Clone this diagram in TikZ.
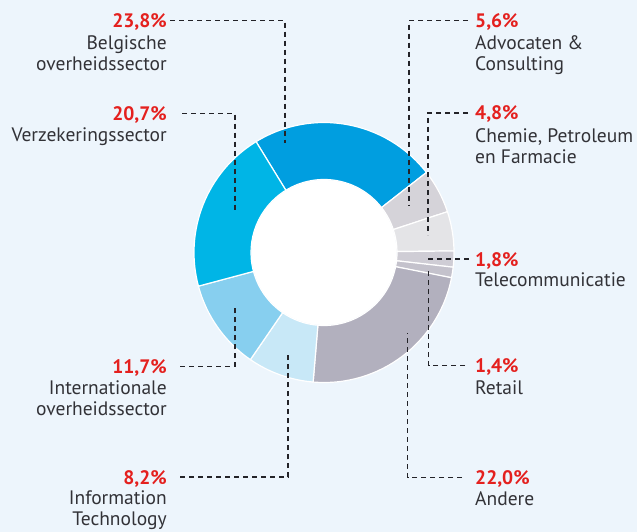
\documentclass[tikz,border=0pt]{standalone}
\usepackage{fontspec}
\setmainfont{PT Sans}
\usepackage{tikz}
\usepackage{xcolor}
\definecolor{scbg}{RGB}{237,245,252}
\definecolor{scred}{RGB}{228,32,30}
\definecolor{sctext}{RGB}{50,50,55}
\definecolor{scline}{RGB}{35,35,40}
\definecolor{scbelg}{RGB}{0,158,224}
\definecolor{scverz}{RGB}{0,181,230}
\definecolor{scintl}{RGB}{135,207,239}
\definecolor{scit}{RGB}{200,232,247}
\definecolor{scande}{RGB}{178,176,190}
\definecolor{scadvo}{RGB}{213,211,217}
\definecolor{scchem}{RGB}{228,228,231}
\definecolor{sctele}{RGB}{207,205,213}
\definecolor{screta}{RGB}{196,194,204}
\tikzstyle{leader} = [line width=1.5pt, dash pattern=on 5pt off 4pt, color=scline]
\tikzstyle{slice} = [draw=white, line width=1.2pt]
\tikzstyle{pct} = [inner sep=0pt, text height=14pt, text depth=0pt, text=scred, font=\fontsize{19.5}{21}\selectfont\bfseries]
\tikzstyle{txtl} = [inner sep=0pt, anchor=base east, align=right, text=sctext, font=\fontsize{19.5}{21}\selectfont]
\tikzstyle{txtr} = [inner sep=0pt, anchor=base west, align=left, text=sctext, font=\fontsize{19.5}{21}\selectfont]

\begin{document}
\begin{tikzpicture}[x=1pt, y=1pt]
% Background
\fill[scbg] (0,0) rectangle (637,-532);
\useasboundingbox (0,0) rectangle (637,-532);

% Ring
\begin{scope}[shift={(324,-252.5)}]
\filldraw[slice, fill=scbelg] (121.5:130) arc[start angle=121.5, end angle=38, radius=130] -- (38:73) arc[start angle=38, end angle=121.5, radius=73] -- cycle;
\filldraw[slice, fill=scadvo] (38:130) arc[start angle=38, end angle=18.3, radius=130] -- (18.3:73) arc[start angle=18.3, end angle=38, radius=73] -- cycle;
\filldraw[slice, fill=scchem] (18.3:130) arc[start angle=18.3, end angle=0.7, radius=130] -- (0.7:73) arc[start angle=0.7, end angle=18.3, radius=73] -- cycle;
\filldraw[slice, fill=sctele] (0.7:130) arc[start angle=0.7, end angle=-6.5, radius=130] -- (-6.5:73) arc[start angle=-6.5, end angle=0.7, radius=73] -- cycle;
\filldraw[slice, fill=screta] (-6.5:130) arc[start angle=-6.5, end angle=-11.2, radius=130] -- (-11.2:73) arc[start angle=-11.2, end angle=-6.5, radius=73] -- cycle;
\filldraw[slice, fill=scande] (-11.2:130) arc[start angle=-11.2, end angle=-94.8, radius=130] -- (-94.8:73) arc[start angle=-94.8, end angle=-11.2, radius=73] -- cycle;
\filldraw[slice, fill=scit] (-94.8:130) arc[start angle=-94.8, end angle=-124.5, radius=130] -- (-124.5:73) arc[start angle=-124.5, end angle=-94.8, radius=73] -- cycle;
\filldraw[slice, fill=scintl] (-124.5:130) arc[start angle=-124.5, end angle=-165, radius=130] -- (-165:73) arc[start angle=-165, end angle=-124.5, radius=73] -- cycle;
\filldraw[slice, fill=scverz] (-165:130) arc[start angle=-165, end angle=-238.5, radius=130] -- (-238.5:73) arc[start angle=-238.5, end angle=-165, radius=73] -- cycle;
\fill[white] (0,0) circle[radius=72.4];
\end{scope}

% Left labels (two-line nodes sit on their last baseline)
\node[pct, anchor=base east] (pBelg) at (167,-27.7) {23,8\%};
\node[txtl] (nBelg) at ([yshift=-43.3pt]pBelg.base east) {Belgische\\overheidssector};
\node[pct, anchor=base east] (pVerz) at (167,-120.7) {20,7\%};
\node[txtl] (nVerz) at ([yshift=-21.2pt]pVerz.base east) {Verzekeringssector};
\node[pct, anchor=base east] (pIntl) at (167,-373.3) {11,7\%};
\node[txtl] (nIntl) at ([yshift=-41.9pt]pIntl.base east) {Internationale\\overheidssector};
\node[pct, anchor=base east] (pIT) at (167,-484) {8,2\%};
\node[txtl] (nIT) at ([yshift=-41.7pt]pIT.base east) {Information\\Technology};

% Right labels
\node[pct, anchor=base west] (pAdvo) at (475,-27.7) {5,6\%};
\node[txtr] (nAdvo) at ([yshift=-43pt]pAdvo.base west) {Advocaten \&\\Consulting};
\node[pct, anchor=base west] (pChem) at (475,-120) {4,8\%};
\node[txtr] (nChem) at ([yshift=-43.3pt]pChem.base west) {Chemie, Petroleum\\en Farmacie};
\node[pct, anchor=base west] (pTele) at (475,-266) {1,8\%};
\node[txtr] (nTele) at ([yshift=-20.7pt]pTele.base west) {Telecommunicatie};
\node[pct, anchor=base west] (pReta) at (475,-372.7) {1,4\%};
\node[txtr] (nReta) at ([yshift=-21.3pt]pReta.base west) {Retail};
\node[pct, anchor=base west] (pAnde) at (475,-484.3) {22,0\%};
\node[txtr] (nAnde) at ([yshift=-20.7pt]pAnde.base west) {Andere};

% Leader ends inside the ring
\coordinate (eBelg) at (285,-143);
\coordinate (eVerz) at (235,-212);
\coordinate (eIntl) at (235,-307);
\coordinate (eIT) at (288,-353);
\coordinate (eAdvo) at (409,-206);
\coordinate (eChem) at (428,-235);
\coordinate (eTele) at (428,-259);
\coordinate (eReta) at (428.5,-269);
\coordinate (eAnde) at (407.5,-333);

% Leaders
\draw[leader] ([xshift=3pt]pBelg.east) -| (eBelg);
\draw[leader] ([xshift=15pt]pVerz.east) -| (eVerz);
\draw[leader] ([xshift=13pt]pIntl.east) -| (eIntl);
\draw[leader] ([xshift=13pt]pIT.east) -| (eIT);
\draw[leader] ([xshift=-7pt]pAdvo.west) -| (eAdvo);
\draw[leader] ([xshift=-7pt]pChem.west) -| (eChem);
\draw[leader] ([xshift=-6.5pt]pTele.west) -| (eTele);
\draw[leader] ([xshift=-10pt]pReta.west) -| (eReta);
\draw[leader] ([xshift=-13pt]pAnde.west) -| (eAnde);
\end{tikzpicture}
\end{document}
